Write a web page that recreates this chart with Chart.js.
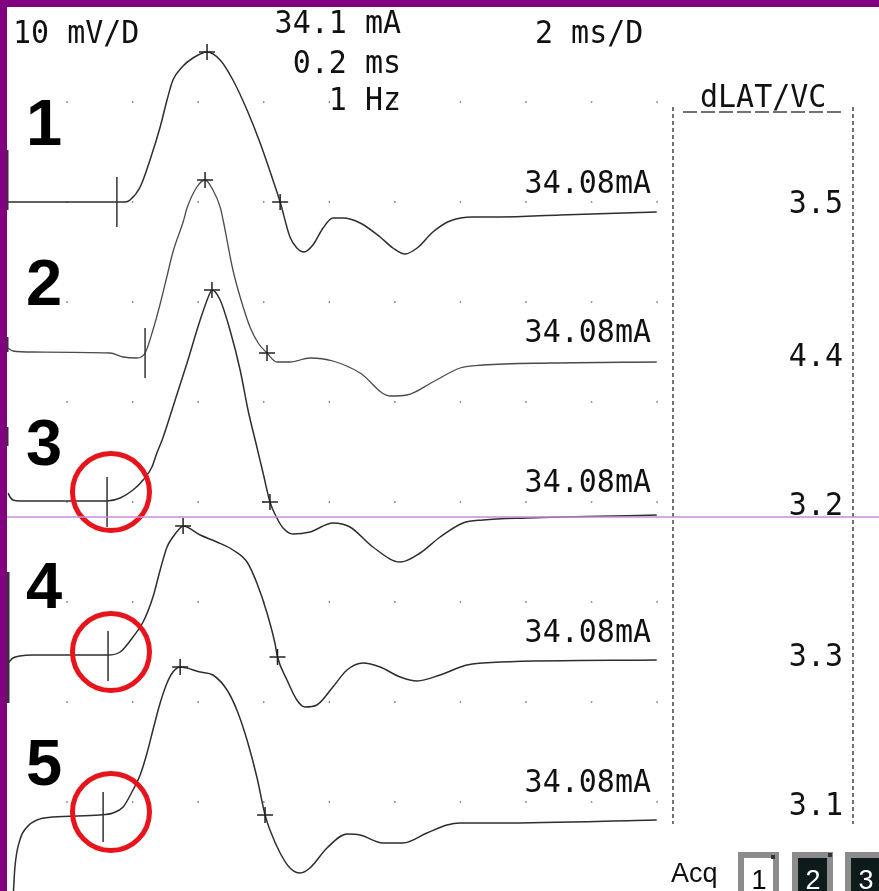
<!DOCTYPE html>
<html>
<head>
<meta charset="utf-8">
<script src="https://cdn.jsdelivr.net/npm/chart.js@4.4.1/dist/chart.umd.min.js"></script>
<style>
  html, body { margin: 0; padding: 0; background: #fff; }
  canvas { display: block; }
</style>
</head>
<body>
<canvas id="nerveChart" width="879" height="891"></canvas>
<script>
// time in ms, amplitude in mV (each trace relative to its own baseline)
const t1Ms = [0.20, 3.52, 3.77, 3.92, 4.23, 4.53, 4.84, 5.05, 5.23, 5.51, 5.84, 6.27, 6.67, 7.06, 7.49, 7.89, 8.28, 8.50, 8.80, 9.01, 9.23, 9.50, 9.81, 10.11, 10.42, 10.94, 11.55, 11.94, 12.31, 12.68, 13.16, 13.68, 14.38, 15.21, 17.04, 19.99];
const t1MV = [0, 0, 0, 0.2, 1.5, 4.2, 7.5, 10.2, 12.2, 13.5, 14.4, 15.0, 14.2, 12.2, 9.2, 5.9, 2.2, 0, -3.5, -4.6, -5.0, -4.3, -2.6, -1.6, -1.6, -2.1, -3.5, -4.6, -5.2, -4.6, -3.0, -1.9, -1.5, -1.5, -1.3, -1.0];

const t2Ms = [0.20, 0.35, 0.96, 3.31, 3.71, 4.13, 4.38, 4.62, 4.84, 5.05, 5.23, 5.54, 5.66, 5.96, 6.21, 6.45, 6.67, 6.76, 7.06, 7.28, 7.58, 7.83, 8.10, 8.40, 8.80, 9.41, 10.11, 10.94, 11.85, 12.37, 13.16, 13.99, 14.69, 16.82, 19.99];
const t2MV = [0.4, 0.1, 0, -0.1, -0.5, -0.6, -0.1, 2.2, 4.8, 7.6, 10.0, 13.0, 14.4, 16.5, 17.2, 16.2, 14.5, 13.2, 8.2, 5.5, 2.5, 0.9, -0.1, -1.0, -1.0, -0.6, -0.9, -2.1, -4.4, -4.3, -3.0, -1.6, -1.3, -1.1, -1.0];

const t3Ms = [0.20, 0.26, 0.35, 0.56, 3.22, 3.62, 4.01, 4.32, 4.59, 4.74, 4.90, 5.23, 5.66, 6.06, 6.36, 6.42, 6.67, 6.97, 7.28, 7.52, 7.79, 7.98, 8.19, 8.40, 8.59, 8.89, 9.41, 10.11, 10.63, 11.33, 12.16, 12.77, 13.38, 14.08, 14.69, 16.03, 19.99];
const t3MV = [0.8, 0.4, 0.1, 0, 0, 0.3, 1.1, 2.1, 3.4, 4.8, 6.1, 9.4, 13.8, 18.1, 20.8, 21.1, 20.1, 17.1, 13.1, 9.1, 5.4, 2.8, -0.1, -1.7, -2.7, -3.3, -3.1, -2.2, -2.6, -4.6, -6.1, -5.2, -3.6, -2.2, -1.9, -1.7, -1.4];

const t4Ms = [0.20, 0.35, 0.56, 0.96, 3.25, 3.62, 4.01, 4.32, 4.62, 4.84, 5.05, 5.23, 5.45, 5.54, 6.06, 6.57, 7.06, 7.49, 7.79, 8.10, 8.34, 8.42, 8.71, 9.01, 9.26, 9.62, 10.11, 10.54, 11.03, 11.55, 12.16, 12.68, 13.38, 14.20, 15.21, 19.99];
const t4MV = [-0.8, -0.3, -0.1, 0, 0, 0.3, 1.8, 3.3, 5.8, 8.5, 10.8, 11.8, 12.7, 12.9, 12.0, 11.3, 10.5, 9.3, 7.2, 4.2, 1.2, -0.2, -2.5, -4.5, -5.2, -5.0, -3.2, -1.5, -0.8, -1.2, -2.2, -2.6, -2.0, -1.0, -0.7, -0.5];

const t5Ms = [0.35, 0.41, 0.56, 0.78, 1.08, 1.57, 3.00, 3.40, 3.71, 4.01, 4.23, 4.44, 4.62, 4.84, 5.05, 5.23, 5.45, 6.06, 6.45, 6.88, 7.18, 7.49, 7.79, 8.04, 8.19, 8.50, 8.80, 9.11, 9.41, 9.93, 10.54, 10.94, 11.64, 12.25, 12.98, 13.59, 13.99, 15.21, 19.99];
const t5MV = [-8.5, -5.2, -2.5, -1.2, -0.5, -0.2, 0, 0.2, 0.8, 2.5, 4.0, 6.2, 8.5, 11.2, 13.2, 14.3, 14.8, 14.3, 14.0, 12.5, 10.5, 7.5, 3.8, 0, -1.5, -3.8, -5.3, -5.8, -5.3, -3.3, -1.9, -2.0, -2.8, -2.8, -1.8, -1.0, -0.8, -0.8, -0.5];

// cursors: onset tick, peak cross, baseline-crossing cross (one per trace)
const onsetMs = [3.52, 4.38, 3.22, 3.25, 3.10];
const onsetMV = [0, -0.1, -0.1, -0.1, -0.2];
const peakMs = [6.27, 6.21, 6.42, 5.54, 5.45];
const peakMV = [15.0, 17.2, 21.1, 12.9, 14.8];
const crossMs = [8.50, 8.10, 8.19, 8.42, 8.04];
const crossMV = [0, -0.1, -0.1, -0.2, 0];

// red circles on traces 3, 4, 5
const circleTrace = [3, 4, 5];
const circleMs = [3.34, 3.34, 3.34];
const circleMV = [0.9, 0.3, 0.3];

// division grid (2 ms/D, 10 mV/D)
const gridMs = [2, 4, 6, 8, 10, 12, 14, 16, 18, 20];
const gridRows = [1, 2, 3, 4, 5, 6, 7, 8];

// texts
const traceNumbers = ['1', '2', '3', '4', '5'];
const stimLabels = ['34.08mA', '34.08mA', '34.08mA', '34.08mA', '34.08mA'];
const dlatValues = ['3.5', '4.4', '3.2', '3.3', '3.1'];
const dlatTitle = 'dLAT/VC';
const gainLabel = '10 mV/D';
const sweepLabel = '2 ms/D';
const stimInfo = ['34.1 mA', '0.2 ms', '1 Hz'];
const acqLabel = 'Acq';
const acqButtons = ['1', '2', '3'];

// ---- layout ----
const W = 879, H = 891;
const PX_PER_MS = 32.78, X0_PX = 1.5, PX_PER_MV = 10;
const TRACE_BASE_PX = [202, 352, 501, 655, 815];
const MONO = '30px "DejaVu Sans Mono"';

const traces = [[t1Ms, t1MV], [t2Ms, t2MV], [t3Ms, t3MV], [t4Ms, t4MV], [t5Ms, t5MV]];
const pts = (xs, ys) => xs.map((x, i) => ({ x: x, y: ys[i] }));

const datasets = [];

const dots = [];
gridRows.forEach(r => gridMs.forEach(m => dots.push({ x: m, y: r })));
datasets.push({
  data: dots, yAxisID: 'yg', showLine: false, order: 10,
  pointStyle: 'rect', pointRadius: 1, pointBorderWidth: 0,
  pointBackgroundColor: '#666'
});

traces.forEach((t, i) => {
  const axis = 'y' + (i + 1);
  datasets.push({
    data: pts(t[0], t[1]), yAxisID: axis, order: 5,
    borderColor: i === 1 ? '#4a4a4a' : '#2e2e2e', borderWidth: i === 1 ? 1.3 : 1.5,
    pointRadius: 0, cubicInterpolationMode: 'monotone', fill: false
  });
  datasets.push({
    data: [{ x: onsetMs[i], y: onsetMV[i] }], yAxisID: axis, showLine: false, order: 3,
    pointStyle: 'line', pointRotation: 90, pointRadius: 25,
    pointBorderColor: '#333', pointBorderWidth: 1.5
  });
  datasets.push({
    data: [{ x: peakMs[i], y: peakMV[i] }, { x: crossMs[i], y: crossMV[i] }], yAxisID: axis,
    showLine: false, order: 3,
    pointStyle: 'cross', pointRadius: 8,
    pointBorderColor: '#222', pointBorderWidth: 1.5
  });
});

circleTrace.forEach((tr, i) => {
  datasets.push({
    data: [{ x: circleMs[i], y: circleMV[i] }], yAxisID: 'y' + tr, showLine: false, order: 1,
    pointStyle: 'circle', pointRadius: 38.5,
    pointBorderColor: '#e8141b', pointBorderWidth: 5, pointBackgroundColor: 'rgba(0,0,0,0)'
  });
});

const scales = {
  x: { type: 'linear', display: false, min: -X0_PX / PX_PER_MS, max: (W - X0_PX) / PX_PER_MS },
  yg: { type: 'linear', display: false, reverse: true, min: -0.02, max: (H - 2) / 100 }
};
TRACE_BASE_PX.forEach((b, i) => {
  scales['y' + (i + 1)] = { type: 'linear', display: false, min: (b - H) / PX_PER_MV, max: b / PX_PER_MV };
});

// monospace text is slightly stretched vertically like the instrument font
function text(ctx, str, x, y, align, font, color, sy) {
  ctx.save();
  ctx.translate(x, y);
  ctx.scale(1, sy || 1);
  ctx.font = font;
  ctx.textAlign = align;
  ctx.textBaseline = 'alphabetic';
  ctx.fillStyle = color;
  ctx.fillText(str, 0, 0);
  ctx.restore();
}

const overlay = {
  id: 'overlay',
  beforeDatasetsDraw(chart) {
    const ctx = chart.ctx;
    ctx.save();
    // dLAT column
    ctx.strokeStyle = '#444';
    ctx.lineWidth = 1.5;
    ctx.setLineDash([4, 3]);
    [673, 853].forEach(x => {
      ctx.beginPath(); ctx.moveTo(x, 107); ctx.lineTo(x, 824); ctx.stroke();
    });
    ctx.setLineDash([14, 4]);
    ctx.beginPath(); ctx.moveTo(683, 112); ctx.lineTo(844, 112); ctx.stroke();
    ctx.setLineDash([]);
    // left-edge trace stubs
    ctx.fillStyle = '#333';
    [[150, 210, 1.5], [337, 352, 1.5], [427, 446, 1.5], [572, 703, 2.5]].forEach(s => {
      ctx.fillRect(7, s[0], s[2], s[1] - s[0]);
    });
    ctx.restore();
  },
  afterDatasetsDraw(chart) {
    const ctx = chart.ctx;
    const SY = 1.08;
    ctx.save();
    // cursor line
    ctx.strokeStyle = '#c98ad6';
    ctx.lineWidth = 1.3;
    ctx.beginPath(); ctx.moveTo(7, 517); ctx.lineTo(W, 517); ctx.stroke();

    // header
    text(ctx, gainLabel, 13, 43, 'left', MONO, '#111', SY);
    text(ctx, sweepLabel, 535, 43, 'left', MONO, '#111', SY);
    [33, 73, 110].forEach((y, i) => text(ctx, stimInfo[i], 401, y, 'right', MONO, '#111', SY));
    text(ctx, dlatTitle, 700, 107, 'left', MONO, '#111', SY);

    // per-trace labels
    const numBase = [145, 305, 465, 608, 785];
    const stimBase = [193, 342, 492, 642, 792];
    const dlatBase = [213, 366, 515, 666, 815];
    traceNumbers.forEach((n, i) => {
      text(ctx, n, 26, numBase[i], 'left', 'bold 65px "Liberation Sans"', '#000');
      text(ctx, stimLabels[i], 651, stimBase[i], 'right', MONO, '#111', SY);
      text(ctx, dlatValues[i], 843, dlatBase[i], 'right', MONO, '#111', SY);
    });

    // Acq buttons
    text(ctx, acqLabel, 671, 882, 'left', '27px "Liberation Sans"', '#111');
    const btnX = [738, 792, 845];
    acqButtons.forEach((b, i) => {
      const x = btnX[i];
      ctx.fillStyle = '#8c8c8c';
      ctx.fillRect(x, 852, 41, 45);
      ctx.fillStyle = i === 0 ? '#fff' : '#0e1b1b';
      ctx.fillRect(x + 6, 858, 29, 40);
      text(ctx, b, x + 21, 889, 'center', '27px "Liberation Sans"', i === 0 ? '#000' : '#fff');
    });
    ctx.fillStyle = '#333';
    ctx.fillRect(771, 855, 4, 4);
    ctx.fillRect(828, 853, 4, 4);

    // purple frame
    ctx.fillStyle = '#800080';
    ctx.fillRect(0, 0, W, 7);
    ctx.fillRect(0, 0, 7, H);
    ctx.restore();
  }
};

new Chart(document.getElementById('nerveChart'), {
  type: 'line',
  data: { datasets: datasets },
  options: {
    responsive: false,
    animation: false,
    devicePixelRatio: 1,
    events: [],
    layout: { padding: 0, autoPadding: false },
    plugins: { legend: { display: false }, tooltip: { enabled: false } },
    scales: scales
  },
  plugins: [overlay]
});
</script>
</body>
</html>
